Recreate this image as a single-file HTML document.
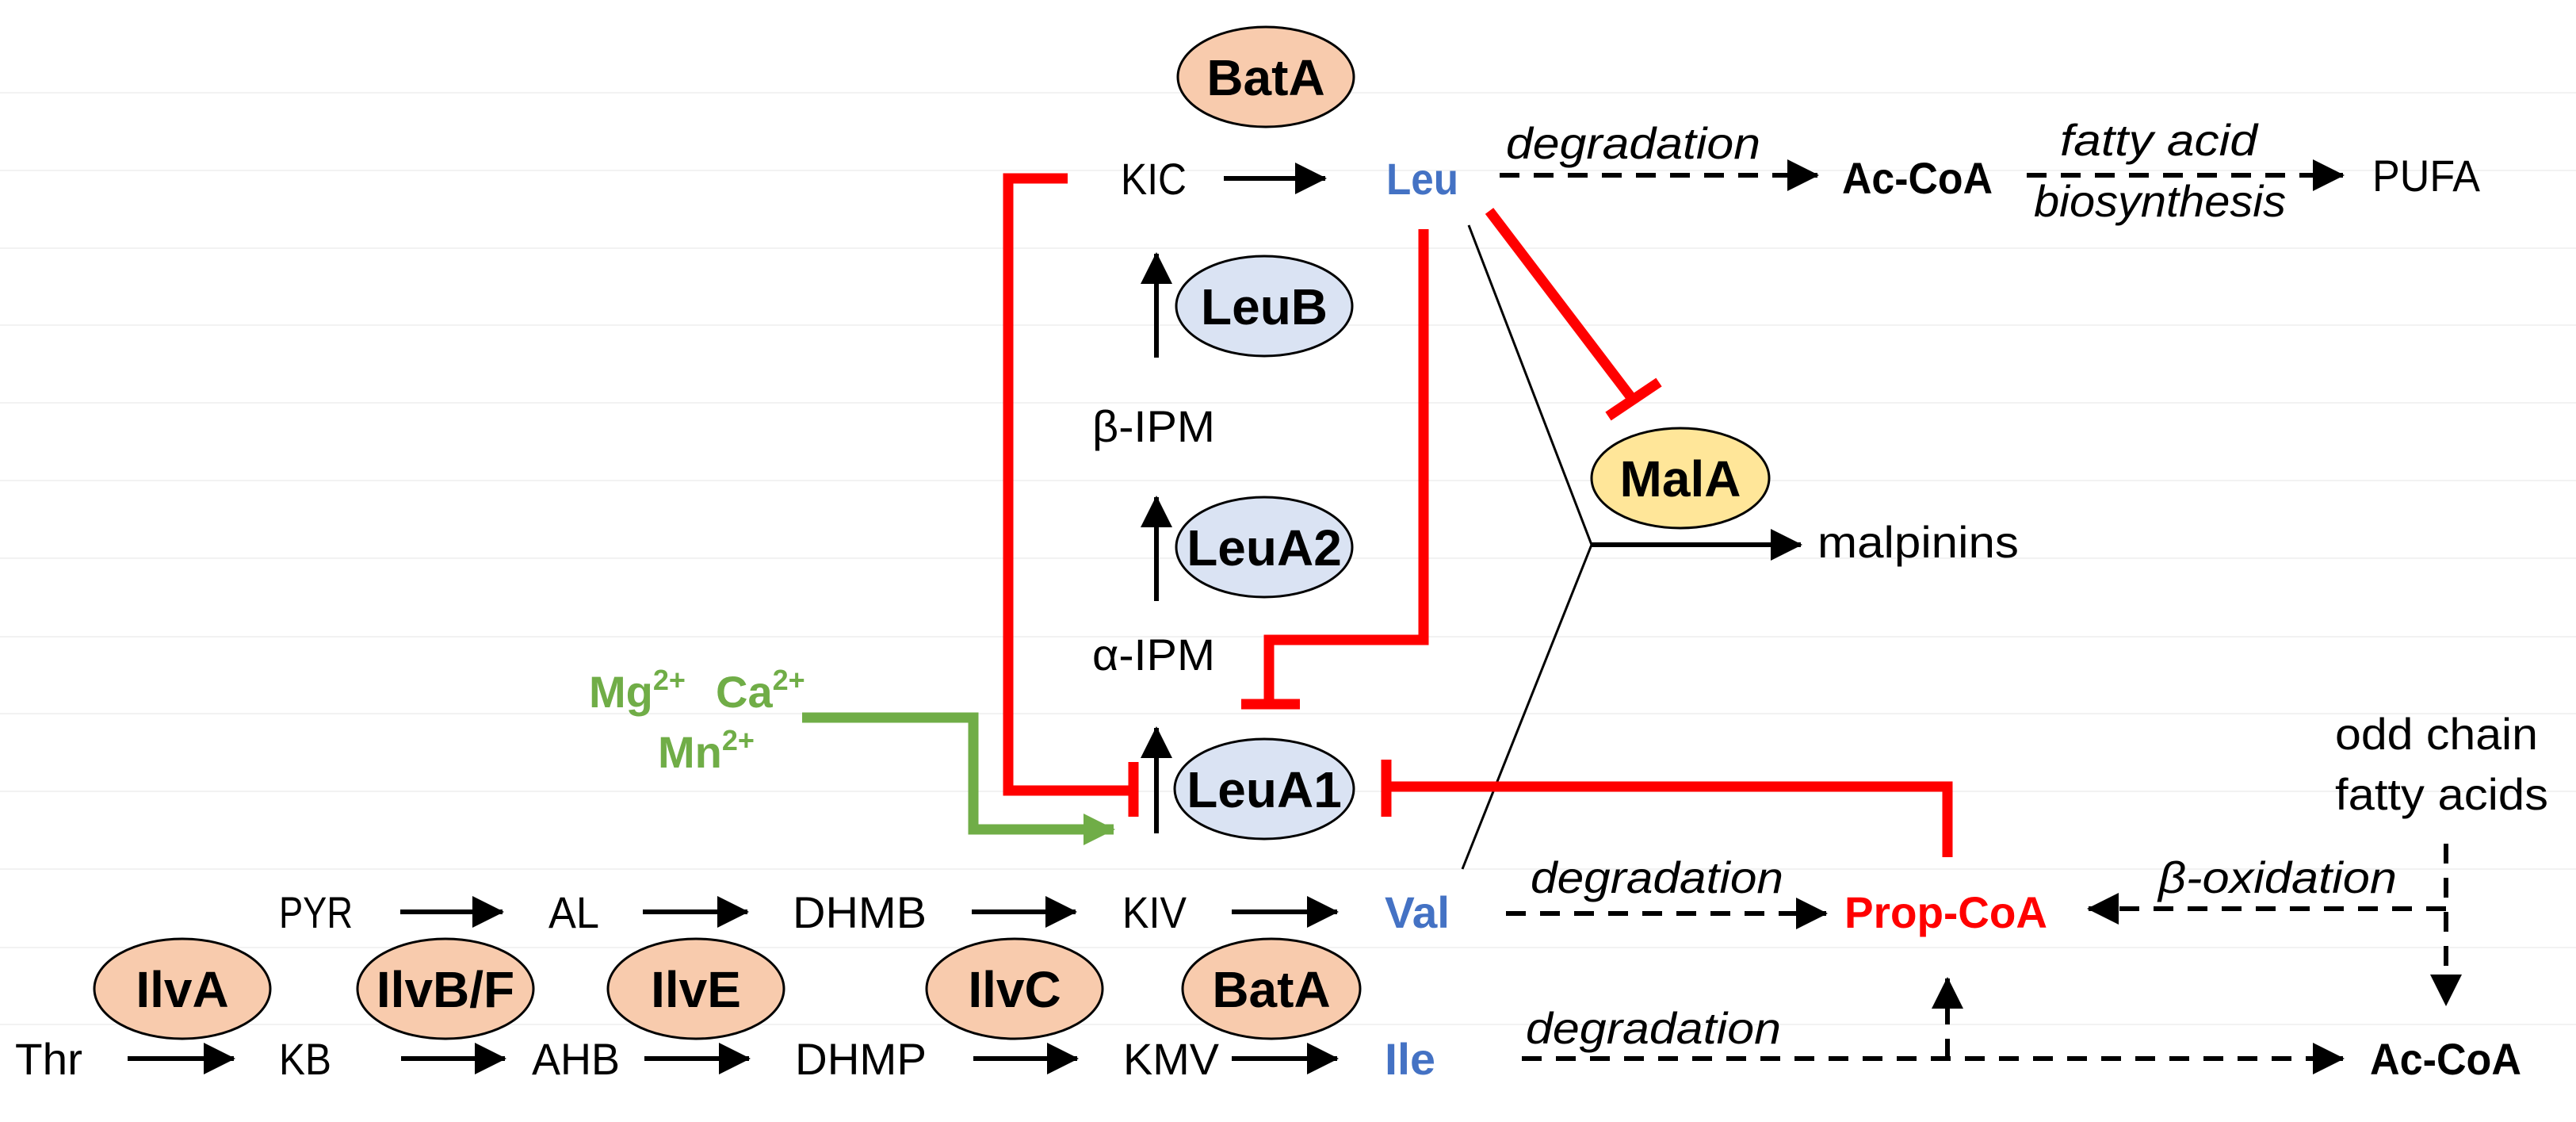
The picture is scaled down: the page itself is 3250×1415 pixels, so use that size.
<!DOCTYPE html>
<html><head><meta charset="utf-8"><style>
html,body{margin:0;padding:0;background:#fff}
svg{display:block}
text{font-family:"Liberation Sans",sans-serif}
.n{font-size:56px;fill:#000}
.b{font-size:56px;font-weight:bold}
.e{font-size:64px;font-weight:bold;fill:#000}
.i{font-size:56px;font-style:italic;fill:#000}
.g{font-size:56px;font-weight:bold;fill:#70AD47}
</style></head><body>
<svg width="3250" height="1415" viewBox="0 0 3250 1415" xmlns="http://www.w3.org/2000/svg">
<defs>
<marker id="ah" markerUnits="userSpaceOnUse" markerWidth="40" markerHeight="40" refX="38" refY="20" orient="auto"><path d="M0,0 L40,20 L0,40 Z" fill="#000"/></marker>
<marker id="gh" markerUnits="userSpaceOnUse" markerWidth="40" markerHeight="40" refX="38" refY="20" orient="auto"><path d="M0,0 L40,20 L0,40 Z" fill="#70AD47"/></marker>
</defs>
<g stroke="#f2f2f2" stroke-width="2">
<line x1="0" y1="117" x2="3250" y2="117"/><line x1="0" y1="215" x2="3250" y2="215"/><line x1="0" y1="313" x2="3250" y2="313"/><line x1="0" y1="410" x2="3250" y2="410"/><line x1="0" y1="508" x2="3250" y2="508"/><line x1="0" y1="606" x2="3250" y2="606"/><line x1="0" y1="704" x2="3250" y2="704"/><line x1="0" y1="803" x2="3250" y2="803"/><line x1="0" y1="900" x2="3250" y2="900"/><line x1="0" y1="998" x2="3250" y2="998"/><line x1="0" y1="1096" x2="3250" y2="1096"/><line x1="0" y1="1195" x2="3250" y2="1195"/><line x1="0" y1="1292" x2="3250" y2="1292"/>
</g>

<!-- ellipses -->
<g stroke="#000" stroke-width="3">
<ellipse cx="1597" cy="97" rx="111" ry="63" fill="#F8CBAD"/>
<ellipse cx="1595" cy="386" rx="111" ry="63" fill="#DAE3F3"/>
<ellipse cx="1595" cy="690" rx="111" ry="63" fill="#DAE3F3"/>
<ellipse cx="1595" cy="995" rx="113" ry="63" fill="#DAE3F3"/>
<ellipse cx="2120" cy="603" rx="112" ry="63" fill="#FFE699"/>
<ellipse cx="230" cy="1247" rx="111" ry="63" fill="#F8CBAD"/>
<ellipse cx="562" cy="1247" rx="111" ry="63" fill="#F8CBAD"/>
<ellipse cx="878" cy="1247" rx="111" ry="63" fill="#F8CBAD"/>
<ellipse cx="1280" cy="1247" rx="111" ry="63" fill="#F8CBAD"/>
<ellipse cx="1604" cy="1247" rx="112" ry="63" fill="#F8CBAD"/>
</g>
<g class="e" text-anchor="middle">
<text x="1597" y="120">BatA</text>
<text x="1595" y="409">LeuB</text>
<text x="1595" y="713">LeuA2</text>
<text x="1595" y="1018">LeuA1</text>
<text x="2120" y="626">MalA</text>
<text x="230" y="1270">IlvA</text>
<text x="562" y="1270">IlvB/F</text>
<text x="878" y="1270">IlvE</text>
<text x="1280" y="1270">IlvC</text>
<text x="1604" y="1270">BatA</text>
</g>

<!-- black solid arrows -->
<g stroke="#000" stroke-width="6" marker-end="url(#ah)">
<line x1="1544" y1="225" x2="1672" y2="225"/>
<line x1="1459" y1="451" x2="1459" y2="320"/>
<line x1="1459" y1="758" x2="1459" y2="627"/>
<line x1="1459" y1="1051" x2="1459" y2="918"/>
<line x1="505" y1="1150" x2="634" y2="1150"/>
<line x1="811" y1="1150" x2="943" y2="1150"/>
<line x1="1226" y1="1150" x2="1357" y2="1150"/>
<line x1="1554" y1="1150" x2="1687" y2="1150"/>
<line x1="161" y1="1335" x2="295" y2="1335"/>
<line x1="506" y1="1335" x2="637" y2="1335"/>
<line x1="813" y1="1335" x2="945" y2="1335"/>
<line x1="1228" y1="1335" x2="1359" y2="1335"/>
<line x1="1554" y1="1335" x2="1687" y2="1335"/>
<line x1="2008" y1="687" x2="2272" y2="687"/>
</g>
<!-- thin lines to malpinins -->
<polyline points="1853,284 2008,687 1845,1096" fill="none" stroke="#000" stroke-width="3"/>

<!-- dashed arrows -->
<g stroke="#000" stroke-width="6" stroke-dasharray="25,18" marker-end="url(#ah)" fill="none">
<line x1="1892" y1="221" x2="2293" y2="221"/>
<line x1="2557" y1="221" x2="2956" y2="221"/>
<line x1="1900" y1="1152" x2="2304" y2="1152"/>
<line x1="3086" y1="1146" x2="2635" y2="1146"/>
<line x1="3086" y1="1064" x2="3086" y2="1267"/>
<line x1="1920" y1="1335" x2="2956" y2="1335"/>
<line x1="2457" y1="1335" x2="2457" y2="1234"/>
</g>

<!-- red inhibitors -->
<g stroke="#FF0000" stroke-width="13" fill="none">
<polyline points="1347,225 1272,225 1272,997 1430,997"/>
<line x1="1430" y1="961" x2="1430" y2="1030"/>
<polyline points="1796,289 1796,807 1601,807 1601,888"/>
<line x1="1566" y1="888" x2="1640" y2="888"/>
<polyline points="2457,1081 2457,992 1749,992"/>
<line x1="1749" y1="958" x2="1749" y2="1030"/>
<line x1="1879" y1="266" x2="2060" y2="504"/>
<line x1="2029" y1="525" x2="2093" y2="482"/>
</g>
<!-- green -->
<polyline points="1012,905 1228,905 1228,1046 1405,1046" fill="none" stroke="#70AD47" stroke-width="13" marker-end="url(#gh)"/>

<!-- labels -->
<text class="n" x="1414" y="245" textLength="83" lengthAdjust="spacingAndGlyphs">KIC</text>
<text class="b" x="1749" y="245" fill="#4472C4" textLength="91" lengthAdjust="spacingAndGlyphs">Leu</text>
<text class="n" x="1378" y="557" textLength="155" lengthAdjust="spacingAndGlyphs">β-IPM</text>
<text class="n" x="1378" y="845" textLength="155" lengthAdjust="spacingAndGlyphs">α-IPM</text>
<text class="g" x="743" y="892">Mg<tspan font-size="36" dy="-22">2+</tspan><tspan dy="22"> </tspan></text>
<text class="g" x="903" y="892">Ca<tspan font-size="36" dy="-22">2+</tspan></text>
<text class="g" x="830" y="968">Mn<tspan font-size="36" dy="-22">2+</tspan></text>

<text class="n" x="352" y="1170" textLength="93" lengthAdjust="spacingAndGlyphs">PYR</text>
<text class="n" x="692" y="1170" textLength="64" lengthAdjust="spacingAndGlyphs">AL</text>
<text class="n" x="1000" y="1170" textLength="169" lengthAdjust="spacingAndGlyphs">DHMB</text>
<text class="n" x="1416" y="1170" textLength="81" lengthAdjust="spacingAndGlyphs">KIV</text>
<text class="b" x="1747" y="1170" fill="#4472C4" textLength="82" lengthAdjust="spacingAndGlyphs">Val</text>

<text class="n" x="19" y="1355" textLength="85" lengthAdjust="spacingAndGlyphs">Thr</text>
<text class="n" x="352" y="1355" textLength="66" lengthAdjust="spacingAndGlyphs">KB</text>
<text class="n" x="671" y="1355" textLength="111" lengthAdjust="spacingAndGlyphs">AHB</text>
<text class="n" x="1003" y="1355" textLength="166" lengthAdjust="spacingAndGlyphs">DHMP</text>
<text class="n" x="1417" y="1355" textLength="121" lengthAdjust="spacingAndGlyphs">KMV</text>
<text class="b" x="1747" y="1355" fill="#4472C4" textLength="64" lengthAdjust="spacingAndGlyphs">Ile</text>

<text class="i" x="1900" y="200" textLength="321" lengthAdjust="spacingAndGlyphs">degradation</text>
<text class="b" x="2324" y="244" fill="#000" textLength="190" lengthAdjust="spacingAndGlyphs">Ac-CoA</text>
<text class="i" x="2599" y="196" textLength="249" lengthAdjust="spacingAndGlyphs">fatty acid</text>
<text class="i" x="2566" y="273" textLength="318" lengthAdjust="spacingAndGlyphs">biosynthesis</text>
<text class="n" x="2993" y="241" textLength="136" lengthAdjust="spacingAndGlyphs">PUFA</text>
<text class="n" x="2293" y="703" textLength="254" lengthAdjust="spacingAndGlyphs">malpinins</text>

<text class="n" x="2946" y="945" textLength="256" lengthAdjust="spacingAndGlyphs">odd chain</text>
<text class="n" x="2946" y="1021" textLength="269" lengthAdjust="spacingAndGlyphs">fatty acids</text>
<text class="i" x="1931" y="1126" textLength="319" lengthAdjust="spacingAndGlyphs">degradation</text>
<text class="b" x="2327" y="1170" fill="#FF0000" textLength="256" lengthAdjust="spacingAndGlyphs">Prop-CoA</text>
<text class="i" x="2723" y="1126" textLength="301" lengthAdjust="spacingAndGlyphs">β-oxidation</text>
<text class="i" x="1925" y="1316" textLength="322" lengthAdjust="spacingAndGlyphs">degradation</text>
<text class="b" x="2990" y="1355" fill="#000" textLength="191" lengthAdjust="spacingAndGlyphs">Ac-CoA</text>
</svg>
</body></html>
